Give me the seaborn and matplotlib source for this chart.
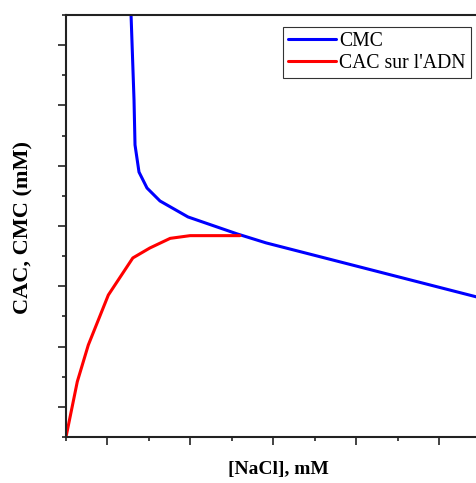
import matplotlib
matplotlib.use("Agg")
import matplotlib.pyplot as plt
import seaborn as sns
import pandas as pd
from matplotlib.ticker import MultipleLocator, NullFormatter

# Data
cmc_x = [1.56, 1.639, 1.663, 1.759, 1.952, 2.265, 2.94, 4.12, 4.82, 10.0]
cmc_y = [14.3, 11.18, 9.69, 8.79, 8.26, 7.83, 7.30, 6.74, 6.44, 4.61]
cac_x = [0.0, 0.272, 0.537, 1.02, 1.61, 2.02, 2.51, 2.99, 4.19]
cac_y = [0.0, 1.835, 3.05, 4.71, 5.94, 6.27, 6.59, 6.68, 6.68]
series_names = ["CMC", "CAC sur l'ADN"]
x_label = "[NaCl], mM"
y_label = "CAC, CMC (mM)"

df = pd.concat([
    pd.DataFrame({"x": cmc_x, "y": cmc_y, "s": series_names[0]}),
    pd.DataFrame({"x": cac_x, "y": cac_y, "s": series_names[1]}),
])

sns.set_style("ticks")
plt.rcParams["font.family"] = ["Liberation Serif", "DejaVu Serif"]
plt.rcParams["text.color"] = "black"
plt.rcParams["axes.labelcolor"] = "black"

W, H = 477, 483
fig = plt.figure(figsize=(W / 100, H / 100), dpi=100)
left, right, top, bottom = 66, 500, 15, 437
ax = fig.add_axes([left / W, (H - bottom) / H, (right - left) / W, (bottom - top) / H])

sns.lineplot(data=df, x="x", y="y", hue="s", palette=["#0000ff", "#ff0000"],
             sort=False, estimator=None, linewidth=2.2, ax=ax)

ax.set_xlim(0, (right - left) / 41.5)
ax.set_ylim(0, 14.0)
ax.xaxis.set_major_locator(MultipleLocator(2, offset=1))
ax.xaxis.set_minor_locator(MultipleLocator(2))
ax.yaxis.set_major_locator(MultipleLocator(2, offset=1))
ax.yaxis.set_minor_locator(MultipleLocator(2))
ax.xaxis.set_major_formatter(NullFormatter())
ax.yaxis.set_major_formatter(NullFormatter())
ax.tick_params(which="major", direction="out", length=6, width=1.2, color="#222222")
ax.tick_params(which="minor", direction="out", length=3, width=1.2, color="#222222")
for sp in ["left", "bottom", "top"]:
    ax.spines[sp].set_linewidth(1.5)
    ax.spines[sp].set_color("#222222")
ax.spines["right"].set_visible(False)

ax.set_xlabel(x_label, fontsize=14, fontweight="bold", color="black")
ax.set_ylabel(y_label, fontsize=16, fontweight="bold", color="black")
ax.xaxis.set_label_coords((278 - left) / (right - left), -(461 - bottom) / (bottom - top))
ax.yaxis.set_label_coords(-(left - 33) / (right - left), (bottom - 228) / (bottom - top))

leg = ax.legend(title=None, loc="upper left",
                bbox_to_anchor=((283 - left) / (right - left), (bottom - 27) / (bottom - top)),
                frameon=True, fancybox=False, fontsize=14.2, handlelength=2.45,
                borderpad=0.25, labelspacing=0.15, handletextpad=0.15, borderaxespad=0,
                labelcolor="black")
leg.get_frame().set_edgecolor("black")
leg.get_frame().set_linewidth(0.8)

fig.savefig("out.png", dpi=100)
